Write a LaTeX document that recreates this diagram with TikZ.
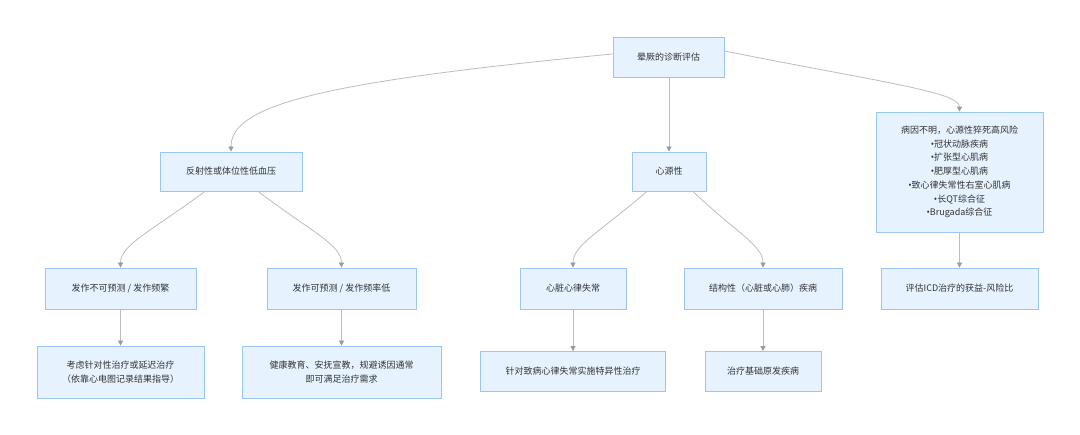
\documentclass[tikz,border=0pt]{standalone}
\usepackage{fontspec}
\setmainfont{Noto Sans CJK SC}
\newfontfamily\bulletfont{Noto Sans}
\newcommand{\bul}{{\bulletfont •}}
\usetikzlibrary{arrows.meta,calc}
\definecolor{boxfill}{HTML}{E6F3FF}
\definecolor{boxline}{HTML}{9CC6EE}
\definecolor{edgecol}{HTML}{BDBDBD}
\definecolor{tipcol}{HTML}{9A9A9A}
\definecolor{txt}{HTML}{333333}
\begin{document}
\begin{tikzpicture}[x=1pt,y=-1pt,
  box/.style={draw=boxline,fill=boxfill,line width=0.8pt,inner sep=0pt,align=center,
    text=txt,font=\fontsize{9}{13.7}\selectfont},
  edge/.style={draw=edgecol,line width=0.8pt,-{Triangle[width=5pt,length=5pt,color=tipcol]}}]
\useasboundingbox[fill=white] (0,0) rectangle (1080,435);
\node[box,minimum width=111pt,minimum height=40pt] (root) at (668.5,57) {晕厥的诊断评估};
\node[box,minimum width=142pt,minimum height=39pt] (refl) at (231,171.5) {反射性或体位性低血压};
\node[box,minimum width=74pt,minimum height=39pt] (card) at (669,171.5) {心源性};
\node[box,minimum width=167pt,minimum height=120pt] (unk) at (959.5,172) {病因不明，心源性猝死高风险\\\bul{}冠状动脉疾病\\\bul{}扩张型心肌病\\\bul{}肥厚型心肌病\\\bul{}致心律失常性右室心肌病\\\bul{}长QT综合征\\\bul{}Brugada综合征};
\node[box,minimum width=151pt,minimum height=41pt] (unp) at (120.5,288.5) {发作不可预测 / 发作频繁};
\node[box,minimum width=149pt,minimum height=41pt] (pre) at (341.5,288.5) {发作可预测 / 发作频率低};
\node[box,minimum width=106pt,minimum height=41pt] (arr) at (573,288.5) {心脏心律失常};
\node[box,minimum width=158pt,minimum height=41pt] (str) at (763,288.5) {结构性（心脏或心肺）疾病};
\node[box,minimum width=157pt,minimum height=41pt] (icd) at (959.5,288.5) {评估ICD治疗的获益-风险比};
\node[box,minimum width=167pt,minimum height=52pt] (cons) at (120.5,372) {考虑针对性治疗或延迟治疗\\（依靠心电图记录结果指导）};
\node[box,minimum width=199pt,minimum height=52pt] (edu) at (341.5,372) {健康教育、安抚宣教，规避诱因通常\\即可满足治疗需求};
\node[box,minimum width=185pt,minimum height=40pt] (spec) at (573,371.5) {针对致病心律失常实施特异性治疗};
\node[box,minimum width=116pt,minimum height=40pt] (base) at (763,371.5) {治疗基础原发疾病};
% edges
\draw[edge] ([yshift=3pt]root.west) .. controls (320,82) and (231,105) .. (refl.north);
\draw[edge] (root.south -| card.north) -- (card.north);
\draw[edge] ([yshift=6pt]root.east) .. controls (880,82) and (959.5,92) .. (unk.north);
\draw[edge] ([xshift=-26pt]refl.south) .. controls (150,232) and (120.5,245) .. (unp.north);
\draw[edge] ([xshift=27pt]refl.south) .. controls (312,232) and (341.5,245) .. (pre.north);
\draw[edge] ([xshift=-22pt]card.south) .. controls (600,232) and (573,245) .. (arr.north);
\draw[edge] ([xshift=24pt]card.south) .. controls (735,232) and (763,245) .. (str.north);
\draw[edge] (unk.south) -- (icd.north);
\draw[edge] (unp.south) -- (cons.north);
\draw[edge] (pre.south) -- (edu.north);
\draw[edge] (arr.south) -- (spec.north);
\draw[edge] (str.south) -- (base.north);
\end{tikzpicture}
\end{document}
